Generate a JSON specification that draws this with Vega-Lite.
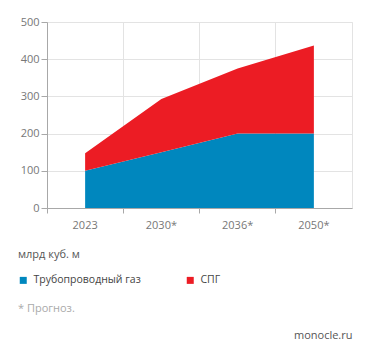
{
  "$schema": "https://vega.github.io/schema/vega-lite/v6.json",
  "autosize": "none",
  "width": 305,
  "height": 186,
  "padding": {"left": 47, "top": 22, "right": 19, "bottom": 149},
  "background": "white",
  "config": {
    "font": "Open Sans",
    "view": {"stroke": "#e3e3e3", "strokeWidth": 1}
  },
  "title": {
    "text": "* Прогноз.",
    "orient": "bottom",
    "anchor": "start",
    "frame": "group",
    "dx": -29,
    "offset": -37,
    "fontSize": 11,
    "fontWeight": "normal",
    "color": "#aaaaaa"
  },
  "data": {
    "values": [
      {"year": "2023", "type": "Трубопроводный газ", "value": 100},
      {"year": "2030*", "type": "Трубопроводный газ", "value": 150},
      {"year": "2036*", "type": "Трубопроводный газ", "value": 200},
      {"year": "2050*", "type": "Трубопроводный газ", "value": 200},
      {"year": "2023", "type": "СПГ", "value": 47},
      {"year": "2030*", "type": "СПГ", "value": 143},
      {"year": "2036*", "type": "СПГ", "value": 175},
      {"year": "2050*", "type": "СПГ", "value": 237}
    ]
  },
  "mark": {"type": "area", "opacity": 1},
  "encoding": {
    "x": {
      "field": "year",
      "type": "ordinal",
      "bandPosition": 0.5,
      "scale": {"type": "band", "paddingInner": 0, "paddingOuter": 0},
      "axis": {
        "title": null,
        "labelAngle": 0,
        "bandPosition": 0,
        "labelOffset": 0,
        "labelAlign": "center",
        "grid": true,
        "gridColor": "#e3e3e3",
        "domainColor": "#a8a8a8",
        "tickColor": "#a8a8a8",
        "tickSize": 5,
        "labelFontSize": 11,
        "labelColor": "#777777",
        "labelPadding": 6
      }
    },
    "y": {
      "field": "value",
      "type": "quantitative",
      "stack": "zero",
      "scale": {"domain": [0, 500]},
      "axis": {
        "values": [0, 100, 200, 300, 400, 500],
        "grid": true,
        "gridColor": "#e3e3e3",
        "domainColor": "#a8a8a8",
        "tickColor": "#a8a8a8",
        "tickSize": 6,
        "labelPadding": 2,
        "labelFontSize": 11,
        "labelColor": "#777777",
        "title": "monocle.ru",
        "titleAngle": 0,
        "titleX": 305,
        "titleY": 313,
        "titleAlign": "right",
        "titleBaseline": "middle",
        "titleFontSize": 11,
        "titleFontWeight": "normal",
        "titleColor": "#555555"
      }
    },
    "color": {
      "field": "type",
      "type": "nominal",
      "sort": ["Трубопроводный газ", "СПГ"],
      "scale": {"domain": ["Трубопроводный газ", "СПГ"], "range": ["#0087be", "#ec1c24"]},
      "legend": {
        "title": "млрд куб. м",
        "orient": "none",
        "direction": "horizontal",
        "legendX": -29,
        "legendY": 227,
        "titleFontSize": 11,
        "titleFontWeight": "normal",
        "titleColor": "#555555",
        "titlePadding": 15,
        "symbolType": "square",
        "symbolSize": 49,
        "symbolStrokeWidth": 0,
        "labelFontSize": 10.5,
        "labelColor": "#444444",
        "labelOffset": 5,
        "columnPadding": 44
      }
    },
    "order": {"field": "type", "sort": "descending"}
  }
}
